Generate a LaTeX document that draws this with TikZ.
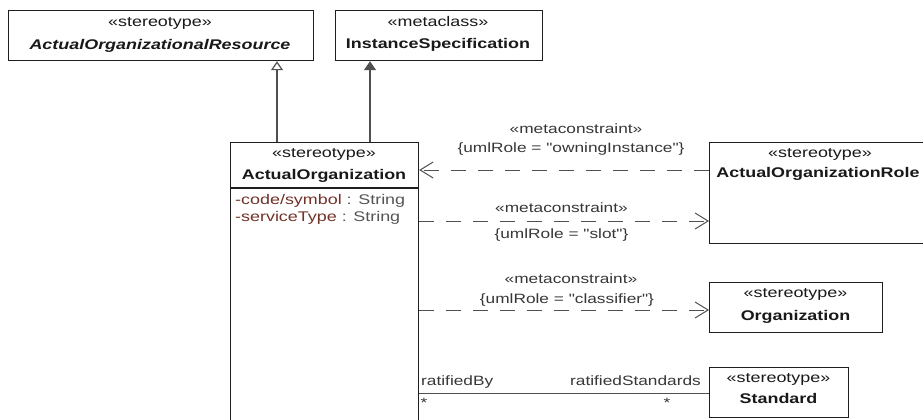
\documentclass[tikz,border=0pt]{standalone}
\usepackage{fontspec}
\setmainfont{Liberation Sans}[FakeStretch=1.28, Ligatures=TeXOff]
\usetikzlibrary{arrows.meta}
\definecolor{boxline}{RGB}{30,30,30}
\definecolor{conn}{RGB}{80,80,80}
\definecolor{txt}{RGB}{25,25,25}
\definecolor{lbl}{RGB}{55,55,55}
\definecolor{attr}{RGB}{115,50,40}
\definecolor{typ}{RGB}{85,85,85}
\tikzset{
  umlbox/.style={draw=boxline, line width=1.2pt, fill=white, anchor=north west, inner sep=0pt},
  txtnode/.style={font=\fontsize{14pt}{17pt}\selectfont, text=txt, inner sep=0pt, anchor=base},
  lblnode/.style={font=\fontsize{13.5pt}{16pt}\selectfont, text=lbl, inner sep=0pt, anchor=base},
  depline/.style={draw=conn, line width=1pt, dash pattern=on 15pt off 12pt,
     -{Straight Barb[length=13pt,width=16pt,line width=1pt]}},
  genline/.style={draw=conn, line width=1.2pt, -{Triangle[open,length=9pt,width=12pt,fill=white]}},
  extline/.style={draw=conn, line width=1.2pt, -{Triangle[length=9pt,width=12pt]}},
  assocline/.style={draw=conn, line width=1pt},
}
\begin{document}
\begin{tikzpicture}[x=1pt,y=-1pt]
\useasboundingbox (0,0) rectangle (923,420);
\clip (0,0) rectangle (923,420);
\fill[white] (0,0) rectangle (923,420);

% boxes
\node[umlbox, minimum width=305pt, minimum height=50pt] (res) at (8,10) {};
\node[umlbox, minimum width=207pt, minimum height=50pt] (inst) at (335,10) {};
\node[umlbox, minimum width=188pt, minimum height=300pt] (ao) at (230,142) {};
\node[umlbox, minimum width=218pt, minimum height=101pt] (role) at (709,142) {};
\node[umlbox, minimum width=173pt, minimum height=50pt] (org) at (709,282) {};
\node[umlbox, minimum width=139pt, minimum height=50pt] (std) at (709,367) {};

% box texts
\node[txtnode] (resst) at (160,26.5) {«stereotype»};
\node[txtnode] (resnm) at (160,49) {\bfseries\itshape ActualOrganizationalResource};
\node[txtnode] (instst) at (438,26.5) {«metaclass»};
\node[txtnode] (instnm) at (438,48.5) {\bfseries InstanceSpecification};
\node[txtnode] (aost) at (324,157.5) {«stereotype»};
\node[txtnode] (aonm) at (324,179) {\bfseries ActualOrganization};
\coordinate (sepy) at (0,188);
\draw[draw=boxline, line width=1.2pt] (ao.west |- sepy) -- (ao.east |- sepy);
\node[txtnode, anchor=base west] (attr1) at (235,204) {\textcolor{attr}{-code/symbol}\textcolor{typ}{\ : String}};
\node[txtnode, anchor=base west] (attr2) at (235,221.5) {\textcolor{attr}{-serviceType}\textcolor{typ}{\ : String}};
\node[txtnode] (rolest) at (820,157) {«stereotype»};
\node[txtnode] (rolenm) at (818,177.5) {\bfseries ActualOrganizationRole};
\node[txtnode] (orgst) at (795.5,297) {«stereotype»};
\node[txtnode] (orgnm) at (795.5,320) {\bfseries Organization};
\node[txtnode] (stdst) at (778.5,382) {«stereotype»};
\node[txtnode] (stdnm) at (778.5,403) {\bfseries Standard};

% generalization / extension
\coordinate (gx1) at (277,0);
\coordinate (gx2) at (370,0);
\draw[genline] (ao.north -| gx1) -- (res.south -| gx1);
\draw[extline] (ao.north -| gx2) -- (inst.south -| gx2);

% metaconstraints
\coordinate (yown) at (0,170);
\coordinate (yslot) at (0,221);
\coordinate (ycls) at (0,310);
\coordinate (yasc) at (0,393);
\draw[depline] (role.west |- yown) -- (ao.east |- yown);
\draw[depline] (ao.east |- yslot) -- (role.west |- yslot);
\draw[depline] (ao.east |- ycls) -- (org.west |- ycls);
\draw[assocline] (ao.east |- yasc) -- (std.west |- yasc);

\node[lblnode] (ownmc) at (576,133) {«metaconstraint»};
\node[lblnode] (ownrole) at (571,152) {\{umlRole = "owningInstance"\}};
\node[lblnode] (slotmc) at (561.5,212) {«metaconstraint»};
\node[lblnode] (slotrole) at (561.5,238) {\{umlRole = "slot"\}};
\node[lblnode] (clsmc) at (571,283) {«metaconstraint»};
\node[lblnode] (clsrole) at (567,303) {\{umlRole = "classifier"\}};

\node[lblnode, anchor=base west] (rby) at (421,385) {ratifiedBy};
\node[lblnode, anchor=base east] (rstd) at (701,385) {ratifiedStandards};
\node[lblnode] (m1) at (424,407) {*};
\node[lblnode] (m2) at (667,407) {*};
\end{tikzpicture}
\end{document}
